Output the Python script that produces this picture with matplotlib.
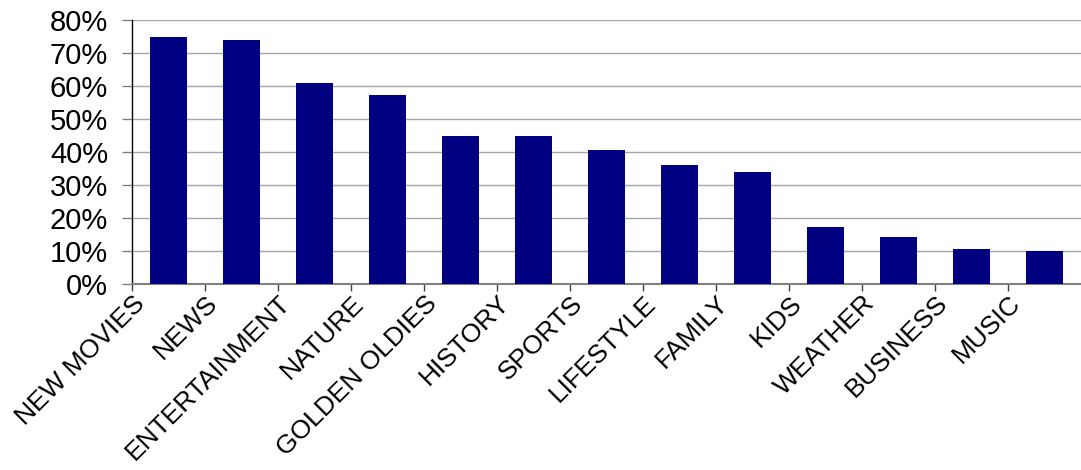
import matplotlib
matplotlib.use("Agg")
import matplotlib.pyplot as plt
from matplotlib.ticker import FixedLocator, PercentFormatter
from matplotlib.transforms import ScaledTranslation
import numpy as np

categories = ["NEW MOVIES", "NEWS", "ENTERTAINMENT", "NATURE", "GOLDEN OLDIES",
              "HISTORY", "SPORTS", "LIFESTYLE", "FAMILY", "KIDS", "WEATHER",
              "BUSINESS", "MUSIC"]
values = [74.8, 73.9, 60.9, 57.3, 44.8, 44.8, 40.6, 36.0, 33.9, 17.3, 14.2, 10.6, 10.0]
y_ticks = [0, 10, 20, 30, 40, 50, 60, 70, 80]

plt.rcParams['font.family'] = ['Liberation Sans', 'DejaVu Sans']
DPI = 100
fig = plt.figure(figsize=(10.81, 4.70), dpi=DPI)
ax = fig.add_axes([132/1081, 1 - 284/470, 1 - 132/1081, (284 - 20)/470])

x = np.arange(len(categories))
ax.bar(x, values, width=0.5, color="#000080", zorder=3)

ax.set_xlim(-0.5, len(categories) - 0.5)
ax.set_ylim(0, 80)
ax.yaxis.set_major_locator(FixedLocator(y_ticks))
ax.yaxis.set_major_formatter(PercentFormatter(decimals=0))
ax.grid(axis="y", color="#a6a6a6", linewidth=1.0, zorder=0)
ax.set_axisbelow(True)

for s in ["top", "right"]:
    ax.spines[s].set_visible(False)
ax.spines["left"].set_color("black")
ax.spines["left"].set_linewidth(1.0)
ax.spines["bottom"].set_color("#808080")
ax.spines["bottom"].set_linewidth(1.5)

ax.tick_params(axis="y", direction="out", length=7.2, width=1, color="#808080",
               pad=10, labelsize=21, labelcolor="black")

# category boundary ticks (minor), labels at centres (major, no tick)
ax.set_xticks(x)
ax.set_xticks(np.arange(len(categories)) - 0.5, minor=True)
ax.tick_params(axis="x", which="major", length=0, pad=0)
ax.tick_params(axis="x", which="minor", direction="out", length=5, width=1, color="#404040")
ax.set_xticklabels(categories, rotation=45, ha="right", va="top",
                   rotation_mode="anchor", fontsize=19)
off = ScaledTranslation(-36/DPI, -7/DPI, fig.dpi_scale_trans)
for lab in ax.get_xticklabels():
    lab.set_transform(lab.get_transform() + off)

fig.savefig("out.png", dpi=DPI)
